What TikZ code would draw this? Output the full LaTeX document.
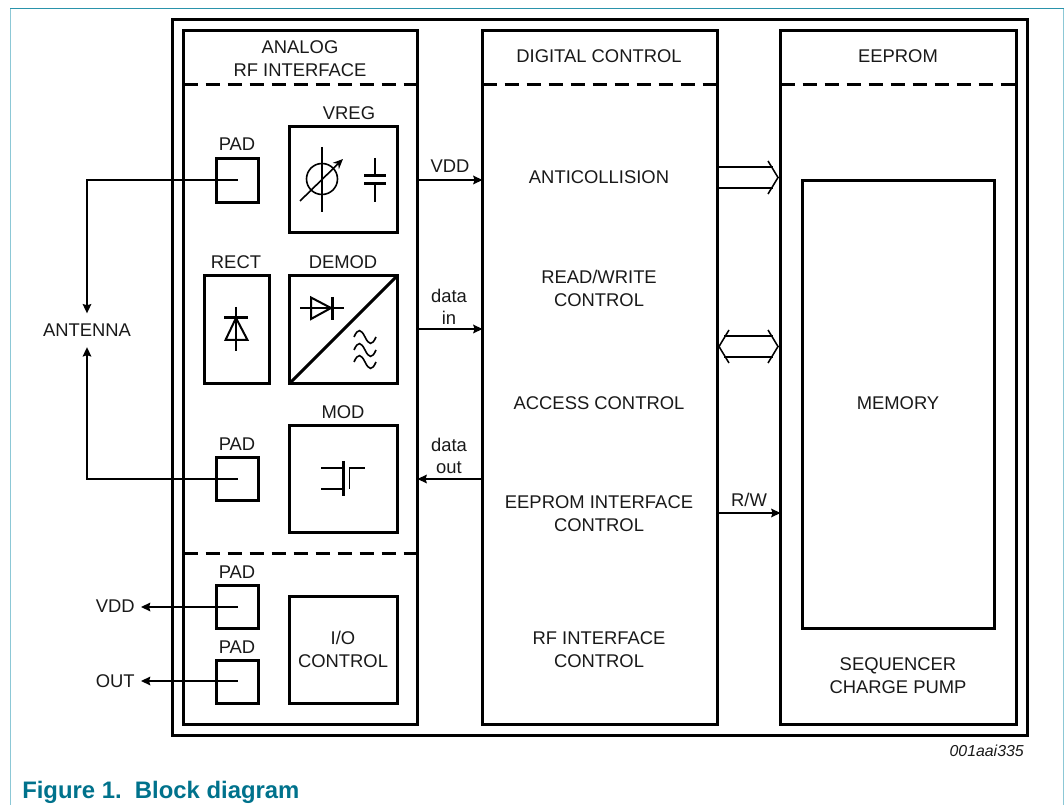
\documentclass[tikz,border=0pt]{standalone}
\usepackage{fontspec}
\setmainfont{Liberation Sans}
\usetikzlibrary{arrows.meta}
\definecolor{frameTop}{HTML}{2A93AB}
\definecolor{frameSide}{HTML}{8CC8D6}
\definecolor{capColor}{HTML}{00728C}
\newcommand{\blockat}[5]{\node[blk,minimum width={(#4-#2)*0.75pt},minimum height={(#5-#3)*0.75pt}] (#1) at ({(#2+#4)/2+0.5},{(#3+#5)/2+0.5}) {};}
\tikzset{
  blk/.style={draw=black,line width=2.25pt,fill=none,rectangle,outer sep=0pt,inner sep=0pt},
  lbl/.style={font=\fontsize{13.8}{17.25}\selectfont,align=center,inner sep=0pt,text=black!90,yshift=-0.2pt},
  thin line/.style={line width=1.15pt,black},
  conn/.style={thin line,-{Stealth[length=7pt,width=6.5pt,inset=1pt]}},
  dash line/.style={line width=2.25pt,dash pattern=on 11pt off 5.5pt},
  sym/.style={line width=1.2pt,black},
  sym thick/.style={line width=2.25pt,black},
}
\begin{document}
\begin{tikzpicture}[x=0.75pt,y=-0.75pt]
\useasboundingbox (0,0) rectangle (1064,805);
% page frame
\draw[frameSide,line width=1.1pt] (10.5,8.5) -- (10.5,805);
\draw[frameSide,line width=1.1pt] (1063.3,8.5) -- (1063.3,805);
\draw[frameTop,line width=1.1pt] (10,8.5) -- (1064,8.5);
% blocks
\blockat{outer}{172}{19}{1027}{735}
\blockat{analog}{183}{30}{417}{724}
\blockat{digital}{482}{30}{717}{724}
\blockat{eeprom}{780}{30}{1016}{724}
\blockat{memory}{802}{180}{994}{628}
\blockat{vreg}{289}{126}{397}{232}
\blockat{demod}{289}{275}{397}{383}
\blockat{mod}{289}{425}{397}{532}
\blockat{ioctl}{289}{596}{397}{703}
\blockat{rect}{204}{275}{269}{383}
\blockat{padA}{216}{158}{258}{202}
\blockat{padB}{216}{457}{258}{500}
\blockat{padC}{216}{585}{258}{628}
\blockat{padD}{216}{660}{258}{703}
% level coordinates
\coordinate (dashY) at (0,84.5);
\coordinate (dashZ) at (0,553.5);
\coordinate (rwY) at (0,513);
\coordinate (vddY) at (0,180);
\coordinate (inY) at (0,329);
\coordinate (outY) at (0,479);
\coordinate (extA) at (0,607);
\coordinate (extB) at (0,681);
% dashed separators
\draw[dash line] (analog.west |- dashY) -- (analog.east |- dashY);
\draw[dash line] (digital.west |- dashY) -- (digital.east |- dashY);
\draw[dash line] (eeprom.west |- dashY) -- (eeprom.east |- dashY);
\draw[dash line] (analog.west |- dashZ) -- (analog.east |- dashZ);
% block titles
\node[lbl] (tAnalog) at (300,58.5) {ANALOG\\RF INTERFACE};
\node[lbl] (tDigital) at (599,56) {DIGITAL CONTROL};
\node[lbl] (tEeprom) at (898,56) {EEPROM};
\node[lbl] (tVreg) at (349,113) {VREG};
\node[lbl] (tPadA) at (237,144) {PAD};
\node[lbl] (tRect) at (236,262) {RECT};
\node[lbl] (tDemod) at (343,262) {DEMOD};
\node[lbl] (tMod) at (343,412) {MOD};
\node[lbl] (tPadB) at (237,444) {PAD};
\node[lbl] (tPadC) at (237,572) {PAD};
\node[lbl] (tPadD) at (237,647) {PAD};
\node[lbl] (tIo) at (343,649.5) {I/O\\CONTROL};
\node[lbl] (t1) at (599,177) {ANTICOLLISION};
\node[lbl] (t2) at (599,288.5) {READ/WRITE\\CONTROL};
\node[lbl] (t3) at (599,403) {ACCESS CONTROL};
\node[lbl] (t4) at (599,513.5) {EEPROM INTERFACE\\CONTROL};
\node[lbl] (t5) at (599,649.5) {RF INTERFACE\\CONTROL};
\node[lbl] (tMem) at (898,403) {MEMORY};
\node[lbl] (tSeq) at (898,675.5) {SEQUENCER\\CHARGE PUMP};
% external labels
\node[lbl,minimum height=25pt] (antenna) at (87,330) {ANTENNA};
\node[lbl,anchor=east,inner xsep=4.5pt,yshift=0.2pt] (vddOut) at (141,606.5) {VDD};
\node[lbl,anchor=east,inner xsep=4.5pt,yshift=0.2pt] (outOut) at (141,681) {OUT};
% connectors
\draw[conn] (padA.center |- vddY) -| (antenna.north);
\draw[conn] (padB.center |- outY) -| (antenna.south);
\draw[conn] (padC.center |- extA) -- (vddOut.east |- extA);
\draw[conn] (padD.center |- extB) -- (outOut.east |- extB);
\draw[conn] (analog.east |- vddY) -- node[lbl,above=5pt] (lVdd) {VDD} (digital.west |- vddY);
\draw[conn] (analog.east |- inY) -- (digital.west |- inY);
\draw[conn] (digital.west |- outY) -- (analog.east |- outY);
\draw[conn] (digital.east |- rwY) -- node[lbl,above=4.5pt] (lRw) {R/W} (eeprom.west |- rwY);
\node[lbl] (lIn1) at (449,296) {data};
\node[lbl] (lIn2) at (449,318) {in};
\node[lbl] (lOut1) at (449,445) {data};
\node[lbl] (lOut2) at (449,467) {out};
% hollow bus arrows
\draw[thin line] (717,167) -- (773,167);
\draw[thin line] (717,188) -- (773,188);
\draw[thin line] (768,161) -- (778,177.5) -- (768,194);
\draw[thin line] (724,336) -- (773,336);
\draw[thin line] (724,357) -- (773,357);
\draw[thin line] (768,330) -- (778,346.5) -- (768,363);
\draw[thin line] (729,330) -- (719,346.5) -- (729,363);
% VREG symbols
\draw[sym] (322,179) circle[radius=15.5];
\draw[sym] (322,147) -- (322,212);
\draw[sym,-{Stealth[length=7.5pt,width=6.5pt]}] (300,201) -- (343,159);
\draw[sym] (375,158) -- (375,175.5);
\draw[sym] (375,184) -- (375,202);
\draw[sym thick] (364,175.5) -- (386,175.5);
\draw[sym thick] (364,184) -- (386,184);
% DEMOD symbols
\draw[sym thick] (289.5,383.5) -- (397.5,275.5);
\draw[sym] (300,308) -- (344,308);
\draw[sym,line width=1.5pt] (311,297.5) -- (311,319) -- (331,308) -- cycle;
\draw[sym thick] (332,297) -- (332,320);
\foreach \wy in {337,350,362}{
  \draw[sym] (354,\wy) .. controls (358,\wy-9) and (361,\wy-8) .. (365,\wy) .. controls (369,\wy+8) and (372,\wy+9) .. (376,\wy);
}
% RECT symbol
\draw[sym] (236,307) -- (236,351);
\draw[sym thick] (224,318) -- (248,318);
\draw[sym,line width=1.5pt] (236,318) -- (225.5,340) -- (247.5,340) -- cycle;
% MOD symbol
\draw[sym] (321,468) -- (343,468);
\draw[sym] (321,489) -- (343,489);
\draw[sym thick] (343,461) -- (343,496);
\draw[sym] (349.5,489) -- (349.5,468) -- (365,468);
% code and caption
\node[anchor=east,inner sep=0pt,font=\fontsize{11.9}{14}\selectfont\itshape,text=black!90] (code) at (1024,750.5) {001aai335};
\node[anchor=west,inner sep=0pt,font=\fontsize{17.9}{20}\selectfont\bfseries,text=capColor] (cap) at (22,792) {Figure 1.\ \ Block diagram};
\end{tikzpicture}
\end{document}
